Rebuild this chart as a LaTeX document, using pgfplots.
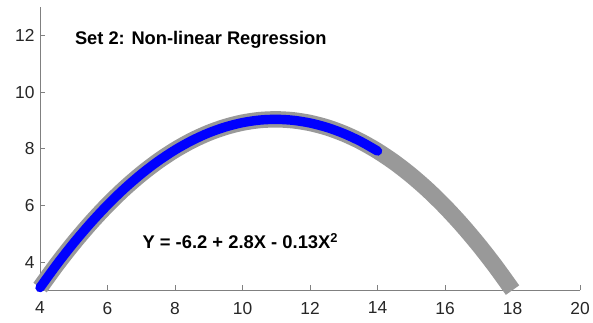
\documentclass[border={12pt 5pt 0pt 7pt}]{standalone}
\usepackage{pgfplots}
\pgfplotsset{compat=1.18}
\usepackage{fontspec}
\setmainfont{Liberation Sans}
\definecolor{fitgray}{RGB}{153,153,153}
\definecolor{axgray}{RGB}{128,128,128}
\definecolor{labgray}{RGB}{38,38,38}
\begin{document}
\begin{tikzpicture}
\begin{axis}[
  scale only axis,
  width=543.6pt, height=285pt,
  xmin=4, xmax=20, ymin=3, ymax=13,
  axis x line*=bottom, axis y line*=left,
  axis line style={axgray,-, line width=0.8pt},
  xtick={4,6,...,20}, ytick={4,6,...,12},
  tick align=inside,
  tick style={axgray, line width=0.8pt},
  major tick length=5pt,
  tick label style={font=\fontsize{17.5}{20}\selectfont, text=labgray},
  xticklabel style={yshift=-8pt},
  yticklabel style={xshift=-2pt},
  /pgf/number format/assume math mode=true,
  clip=false,
]
% fitted quadratic curve over the full range
\addplot[fitgray, line width=16.5pt, smooth] coordinates {
  (4,3.101) (4.5,3.923) (5,4.683) (5.5,5.382) (6,6.021) (6.5,6.598)
  (7,7.114) (7.5,7.569) (8,7.963) (8.5,8.296) (9,8.568) (9.5,8.778)
  (10,8.928) (10.5,9.017) (11,9.044) (11.5,9.010) (12,8.915) (12.5,8.759)
  (13,8.542) (13.5,8.264) (14,7.925) (14.5,7.525) (15,7.063) (15.5,6.541)
  (16,5.957) (16.5,5.312) (17,4.606) (17.5,3.839) (18,3.011)
};
% observed range
\addplot[blue, line width=9.5pt, line cap=round, line join=round, smooth] coordinates {
  (4,3.101) (4.5,3.923) (5,4.683) (5.5,5.382) (6,6.021) (6.5,6.598)
  (7,7.114) (7.5,7.569) (8,7.963) (8.5,8.296) (9,8.568) (9.5,8.778)
  (10,8.928) (10.5,9.017) (11,9.044) (11.5,9.010) (12,8.915) (12.5,8.759)
  (13,8.542) (13.5,8.264) (14,7.925)
};
\node[anchor=west, inner sep=0pt, font=\bfseries\fontsize{18.4}{20}\selectfont] at (axis cs:5.03,11.85) {Set 2: Non-linear Regression};
\node[anchor=west, inner sep=0pt, font=\bfseries\fontsize{18.5}{20}\selectfont] at (axis cs:7.03,4.73) {Y = -6.2 + 2.8X - 0.13X\textsuperscript{2}};
\end{axis}
\end{tikzpicture}
\end{document}
